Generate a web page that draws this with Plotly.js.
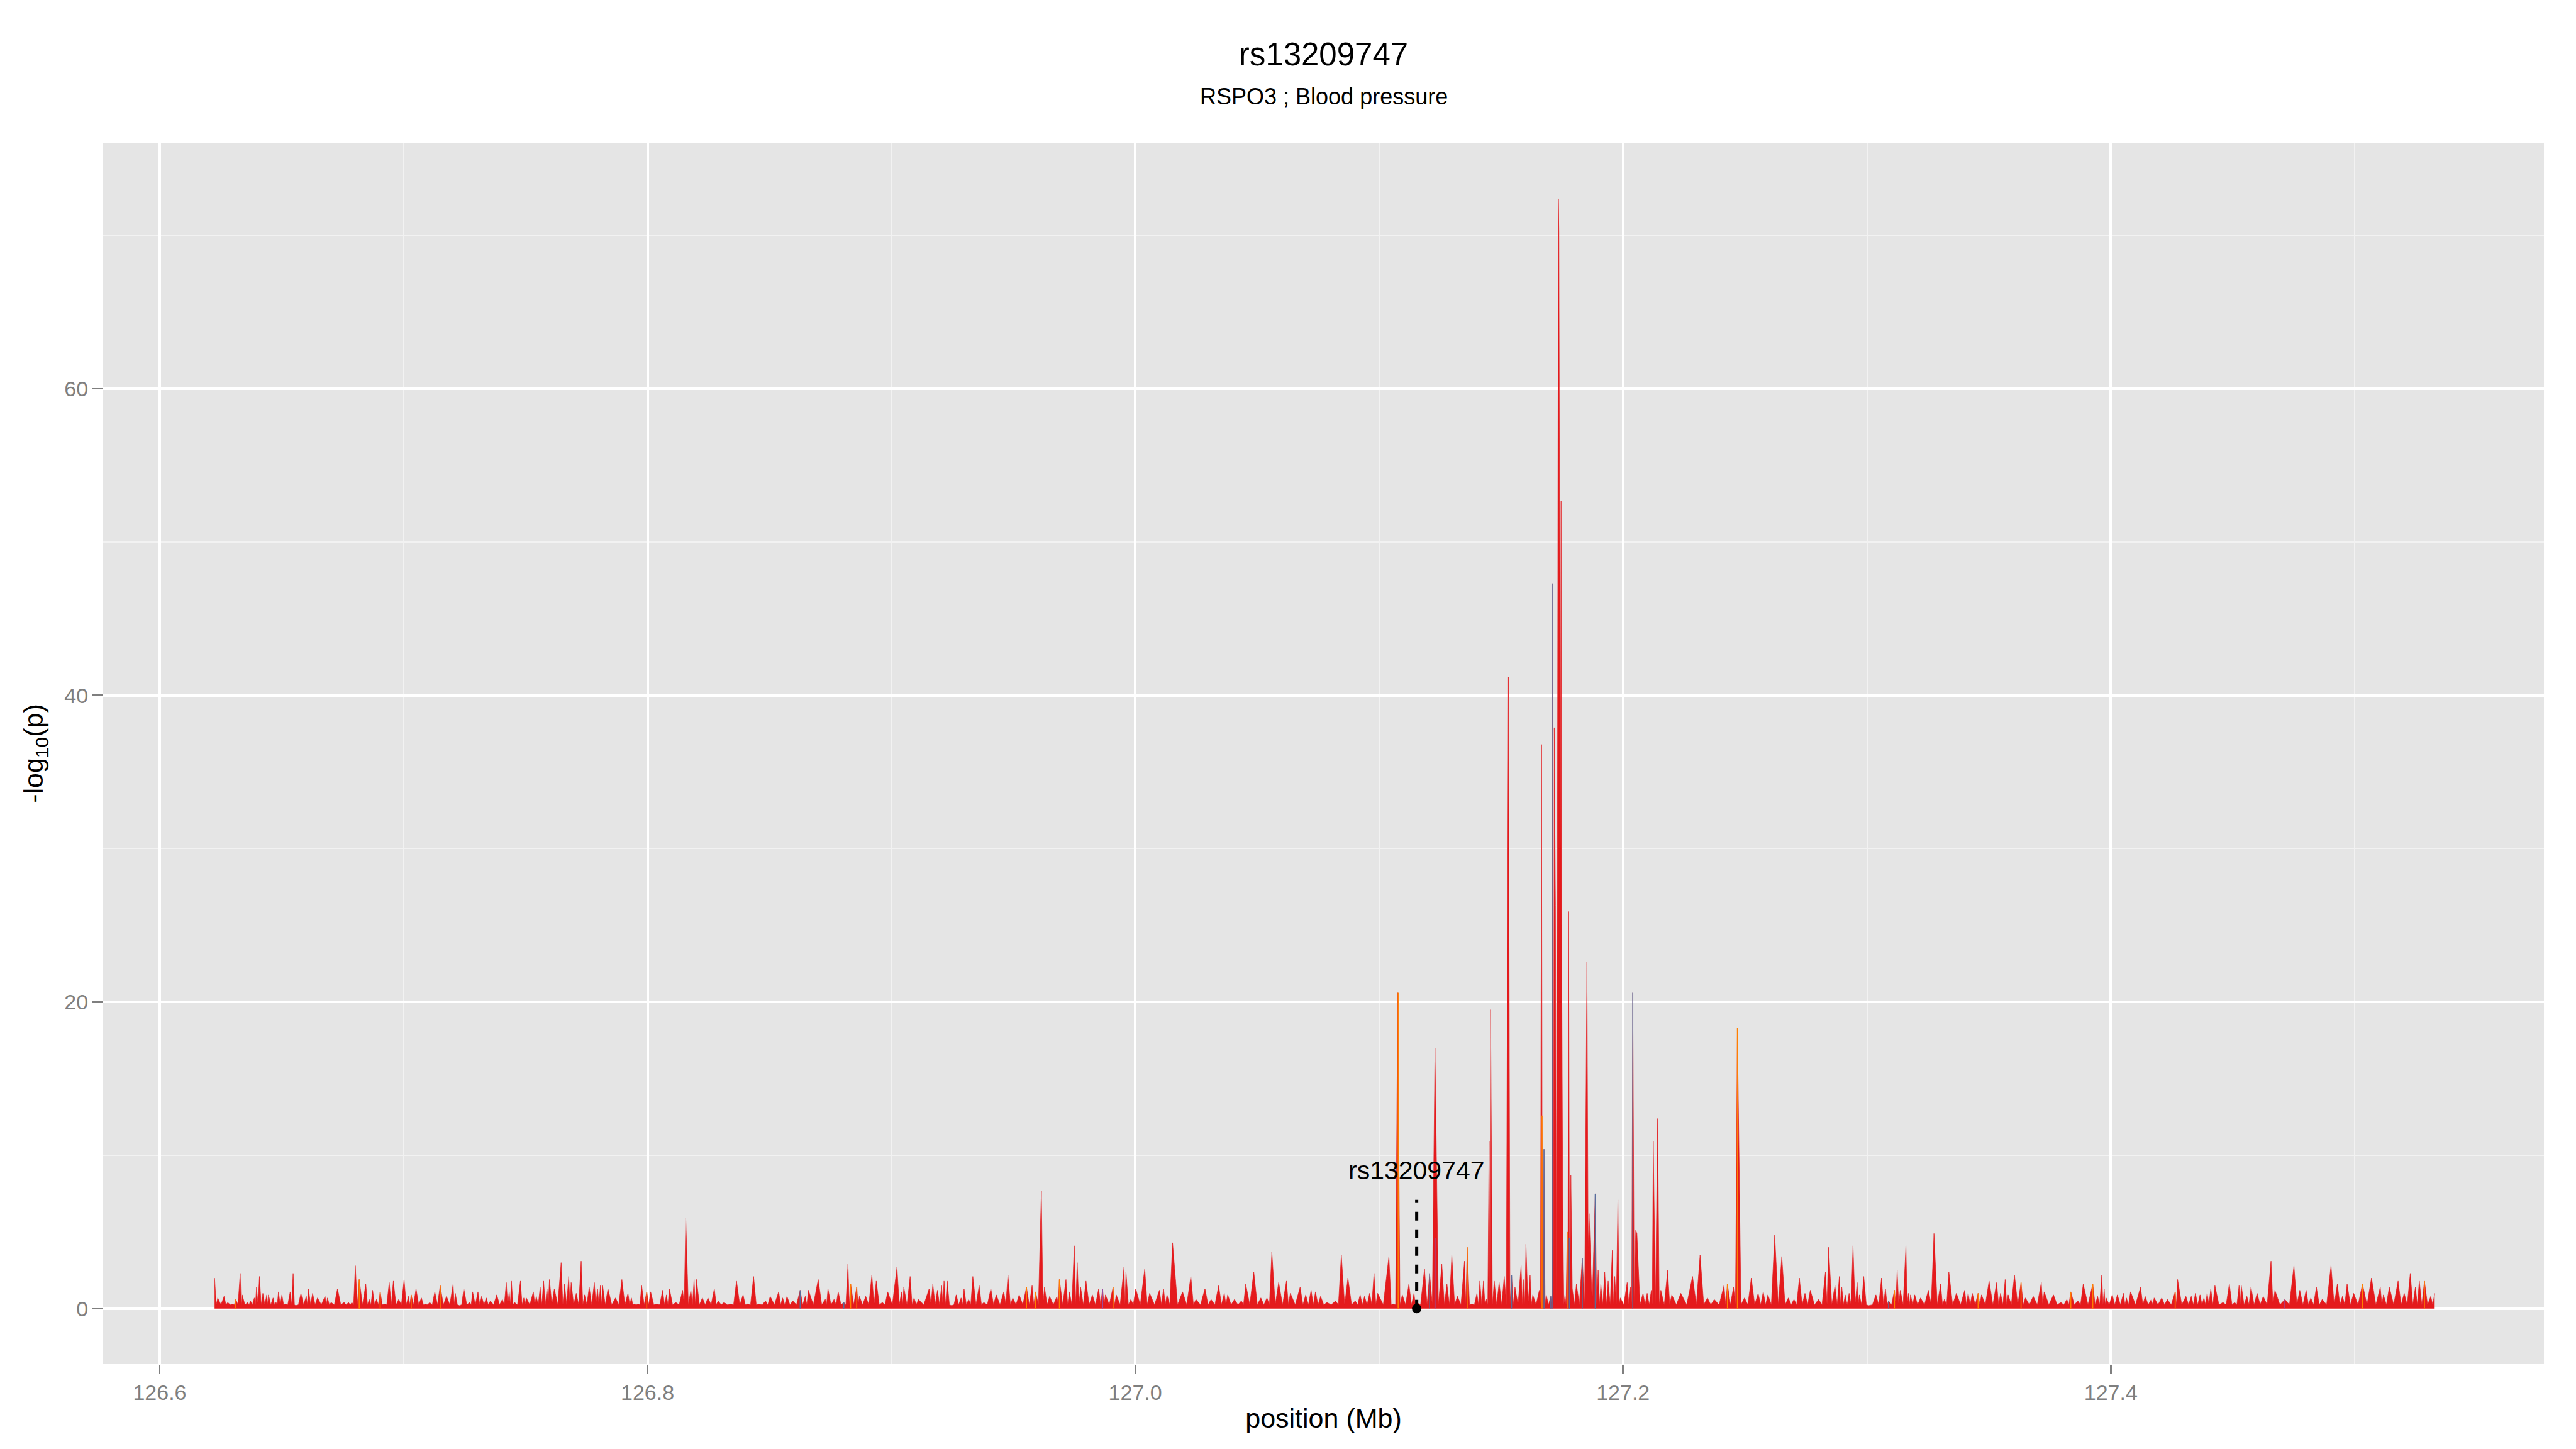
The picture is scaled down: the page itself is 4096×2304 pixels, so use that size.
<!DOCTYPE html>
<html>
<head>
<meta charset="utf-8">
<script src="https://cdn.plot.ly/plotly-3.0.1.min.js"></script>
<style>
html,body{margin:0;padding:0;background:#fff;}
#chart{width:4096px;height:2304px;}
</style>
</head>
<body>
<div id="chart"></div>
<script>
// ---- data (position in Mb, -log10 p) ----
const titleText = "rs13209747";
const subtitleText = "RSPO3 ; Blood pressure";
const xTitle = "position (Mb)";
const yTitle = "-log<sub>10</sub>(p)";

const snpLabel = "rs13209747";
const snpPos = 127.1154;
const snpLineTop = 7.1;
const snpLabelY = 9.0;

const pos = [
126.6225,126.6238,126.6264,126.6279,126.6300,126.6312,126.6330,126.6338,126.6361,126.6372,
126.6388,126.6397,126.6409,126.6423,126.6439,126.6446,126.6465,126.6477,126.6487,126.6501,
126.6515,126.6535,126.6547,126.6558,126.6579,126.6601,126.6610,126.6627,126.6647,126.6678,
126.6688,126.6703,126.6729,126.6756,126.6774,126.6788,126.6802,126.6818,126.6845,126.6859,
126.6873,126.6889,126.6904,126.6921,126.6941,126.6958,126.6980,126.7002,126.7020,126.7031,
126.7051,126.7073,126.7090,126.7107,126.7128,126.7150,126.7176,126.7203,126.7212,126.7229,
126.7247,126.7271,126.7283,126.7305,126.7320,126.7339,126.7356,126.7382,126.7405,126.7421,
126.7433,126.7442,126.7455,126.7479,126.7493,126.7503,126.7532,126.7544,126.7560,126.7574,
126.7588,126.7598,126.7618,126.7646,126.7660,126.7677,126.7687,126.7708,126.7728,126.7742,
126.7761,126.7782,126.7795,126.7807,126.7816,126.7838,126.7869,126.7895,126.7920,126.7934,
126.7946,126.7962,126.7976,126.7997,126.8013,126.8039,126.8062,126.8078,126.8090,126.8116,
126.8144,126.8157,126.8178,126.8191,126.8201,126.8225,126.8248,126.8274,126.8290,126.8314,
126.8341,126.8365,126.8392,126.8410,126.8435,126.8457,126.8484,126.8503,126.8538,126.8554,
126.8572,126.8596,
126.8626,126.8647,126.8660,126.8700,126.8729,126.8740,126.8765,126.8782,126.8805,126.8822,
126.8833,126.8858,126.8869,126.8895,126.8920,126.8938,126.8963,126.8985,126.9023,126.9042,
126.9051,126.9077,126.9093,126.9111,126.9155,126.9170,126.9189,126.9206,126.9216,126.9229,
126.9247,126.9266,126.9286,126.9298,126.9317,126.9334,126.9360,126.9379,126.9408,126.9430,
126.9461,126.9478,126.9498,126.9524,126.9554,126.9577,126.9591,126.9615,126.9628,126.9649,
126.9679,126.9689,126.9716,126.9730,126.9750,126.9762,126.9776,126.9798,126.9824,126.9850,
126.9866,126.9878,126.9909,126.9922,126.9954,126.9962,126.9982,127.0002,127.0039,127.0059,
127.0099,127.0116,127.0130,127.0153,127.0194,127.0228,127.0249,127.0286,127.0311,127.0342,
127.0365,127.0379,127.0407,127.0435,127.0453,127.0486,127.0515,127.0540,127.0560,127.0588,
127.0620,127.0636,127.0676,127.0699,127.0721,127.0739,127.0760,127.0786,127.0821,127.0845,
127.0872,127.0902,127.0922,127.0940,127.0961,127.0979,127.0994,
127.1040,127.1059,127.1076,127.1095,127.1122,127.1143,127.1154,127.1186,127.1207,127.1229,
127.1257,127.1278,127.1298,127.1321,127.1350,127.1361,127.1380,127.1401,127.1413,127.1428,
127.1440,127.1451,127.1457,127.1472,127.1492,127.1513,127.1530,127.1543,127.1557,127.1582,
127.1593,127.1602,127.1619,127.1630,127.1657,127.1666,127.1668,127.1676,127.1685,127.1704,
127.1712,127.1718,127.1723,127.1731,127.1735,127.1737,127.1740,127.1743,127.1746,127.1748,
127.1753,127.1762,127.1771,127.1777,127.1780,127.1786,127.1792,127.1809,127.1833,127.1852,
127.1857,127.1861,127.1886,127.1898,127.1909,127.1925,127.1939,127.1956,127.1966,127.1979,
127.1989,127.2017,127.2031,127.2040,127.2052,127.2057,127.2082,127.2099,127.2116,127.2124,
127.2142,127.2155,127.2183,127.2200,127.2237,127.2285,127.2316,127.2346,127.2374,127.2414,
127.2428,127.2453,127.2469,127.2498,127.2526,127.2554,127.2575,127.2594,127.2622,127.2651,
127.2678,127.2701,127.2723,127.2746,127.2768,127.2802,127.2830,
127.2843,127.2869,127.2887,127.2897,127.2911,127.2927,127.2943,127.2960,127.2969,127.2987,
127.3008,127.3037,127.3060,127.3076,127.3089,127.3113,127.3124,127.3137,127.3160,127.3170,
127.3179,127.3196,127.3220,127.3252,127.3275,127.3302,127.3318,127.3336,127.3367,127.3401,
127.3415,127.3432,127.3456,127.3470,127.3501,127.3532,127.3548,127.3567,127.3579,127.3605,
127.3632,127.3650,127.3682,127.3715,127.3727,127.3765,127.3795,127.3820,127.3836,127.3865,
127.3887,127.3926,127.3946,127.3963,127.3973,127.3981,127.4006,127.4027,127.4052,127.4064,
127.4081,127.4122,127.4141,127.4166,127.4178,127.4209,127.4232,127.4264,127.4274,127.4308,
127.4330,127.4347,127.4366,127.4382,127.4395,127.4410,127.4427,127.4460,127.4486,127.4508,
127.4526,127.4535,127.4558,127.4575,127.4600,127.4625,127.4657,127.4673,127.4714,127.4751,
127.4775,127.4801,127.4820,127.4843,127.4867,127.4903,127.4929,127.4950,127.4969,127.4996,
127.5032,127.5069,127.5105,127.5118,127.5142,127.5178,127.5203,127.5228,127.5249,127.5265,
127.5286,127.5312,127.5328
];

const logp = [
2.0,0.7,0.8,0.4,0.3,0.6,2.3,0.9,0.4,0.5,
0.7,1.4,2.1,1.0,0.9,0.9,0.7,0.4,1.1,0.9,
0.3,1.1,2.3,0.2,1.0,0.8,1.3,1.0,0.7,0.8,
0.7,0.4,1.3,0.4,0.4,0.4,2.8,1.9,1.6,0.6,
1.2,0.6,1.1,0.3,1.7,1.8,0.6,1.9,0.8,0.9,
1.3,0.7,0.3,0.4,1.1,1.5,0.8,1.6,1.0,0.2,
1.3,0.4,1.1,1.1,0.8,0.7,0.5,0.9,0.6,1.7,
1.1,1.8,0.4,1.8,0.7,0.7,1.1,0.8,1.4,1.8,
1.3,1.9,1.3,3.0,1.6,2.1,1.7,1.0,3.1,0.9,
1.4,1.7,1.3,1.5,1.5,1.3,0.7,1.9,1.0,0.7,
0.3,0.3,1.5,1.1,1.1,0.3,1.2,0.9,1.3,0.4,
1.2,5.9,1.2,1.9,1.9,0.7,0.7,1.3,0.5,0.4,
0.3,1.8,0.9,0.3,2.1,0.3,0.5,0.8,1.1,0.7,
0.8,0.5,
1.2,0.8,1.2,1.9,0.6,1.3,0.6,1.1,0.4,2.9,
1.6,1.4,0.8,0.8,2.2,1.8,0.4,1.1,2.7,1.1,
1.4,2.1,0.7,0.6,1.3,1.6,1.2,1.5,1.8,1.8,
0.2,0.9,0.7,1.3,0.6,2.1,1.5,0.4,1.3,0.9,
1.1,2.2,0.7,0.9,1.4,1.5,1.1,7.7,1.4,0.8,
0.8,1.9,1.9,1.1,4.1,3.0,1.4,1.8,0.9,1.3,
1.3,0.9,1.4,0.9,2.7,2.4,0.6,1.3,2.6,1.0,
1.2,1.3,0.9,4.3,1.1,2.1,0.6,1.3,0.6,1.5,
1.0,0.9,0.6,0.5,1.6,2.4,0.7,0.7,3.7,1.7,
1.8,1.0,1.4,0.9,1.2,1.1,0.8,0.4,0.5,3.5,
2.0,0.5,0.9,0.8,1.0,2.3,1.0,
3.4,0.3,20.6,0.9,1.6,1.0,0.4,2.6,2.3,17.0,
2.9,1.6,3.5,0.8,3.1,4.0,0.3,1.0,1.8,1.8,
0.6,10.9,19.5,1.8,1.7,2.1,41.2,2.2,1.4,2.8,
1.9,4.2,2.2,0.9,1.2,36.8,12.6,10.4,0.9,0.8,
47.3,37.9,26.3,30.0,72.4,70.2,54.2,30.0,52.7,25.0,
6.6,0.9,5.0,25.9,4.6,8.7,1.3,1.6,3.3,22.6,
4.0,6.2,7.5,2.5,1.6,2.4,1.8,3.8,2.1,7.1,
0.7,1.7,1.4,20.6,5.1,4.9,1.0,1.0,1.2,10.9,
12.4,1.2,2.5,0.9,1.0,2.1,3.5,0.7,0.6,1.5,
1.6,1.4,18.3,0.7,2.0,1.0,1.1,0.9,4.8,3.4,
0.7,0.6,2.0,1.0,1.2,0.6,2.4,
4.0,1.5,2.1,1.4,0.9,1.0,4.1,1.7,0.9,2.1,
0.2,0.9,2.0,1.3,0.5,1.2,2.5,1.2,4.1,1.0,
0.9,0.9,0.7,1.2,4.9,1.6,0.6,2.4,1.0,1.2,
1.0,1.0,1.0,0.9,1.8,1.7,1.0,1.9,0.9,2.2,
1.7,0.7,0.8,1.7,1.1,0.9,0.4,0.6,1.1,0.5,
1.6,1.6,0.8,2.2,1.3,0.7,0.9,0.9,1.0,0.7,
1.1,1.4,0.8,0.6,0.7,0.7,0.6,1.1,1.9,0.8,
0.8,1.0,0.9,0.7,1.0,1.3,1.5,0.4,1.6,0.4,
1.5,1.5,0.8,1.4,1.0,0.8,3.1,1.2,0.6,2.8,
1.2,1.2,0.7,1.4,0.6,2.8,1.6,0.8,1.6,1.0,
1.6,2.0,1.4,0.9,1.4,1.8,1.0,2.3,1.4,1.8,
1.8,0.8,1.0
];

// SNPs in the other colour groups
const orangePos  = [126.6312,126.6818,126.6904,126.7031,126.7150,126.7997,126.8833,126.8858,126.9554,126.9591,126.9689,126.9909,127.1078,127.1361,127.1668,127.1771,127.2428,127.2469,127.3113,127.3456,127.3632,127.3836,127.3926,127.4264,127.5032,127.5286];
const orangeLogp = [0.6,1.9,1.1,0.9,1.5,1.1,1.6,1.4,1.4,1.1,1.9,1.4,20.6,4.0,12.6,5.0,1.6,18.3,1.2,1.0,1.7,1.1,1.6,1.1,1.6,1.8];
const bluePos    = [126.8626,126.8805,127.1207,127.1543,127.1676,127.1704,127.1712,127.1780,127.1833,127.1886,127.2040,127.3089];
const blueLogp   = [1.2,0.4,2.3,2.2,10.4,0.8,47.3,4.6,3.3,7.5,20.6,0.5];
const purplePos  = [126.9866,127.1229,127.4714];
const purpleLogp = [1.3,4.6,0.6];

const floorLevel = 0.25;   // level the signal returns to between SNP spikes
const minGap = 0.0006;     // SNPs closer than this form one continuous block

// ---- build traces ----
const rx = [], ry = [];
for (let i = 0; i < pos.length; i++) {
  if (i > 0 && pos[i] - pos[i-1] > minGap) {
    rx.push((pos[i] + pos[i-1]) / 2); ry.push(floorLevel);
  }
  rx.push(pos[i]); ry.push(logp[i]);
}

function spikes(p, v) {
  const x = [], y = [];
  for (let i = 0; i < p.length; i++) { x.push(p[i], p[i], null); y.push(0, v[i], null); }
  return {x, y};
}
const o = spikes(orangePos, orangeLogp);
const b = spikes(bluePos, blueLogp);
const pu = spikes(purplePos, purpleLogp);

const RED = '#E41A1C', ORANGE = '#FF7F00', BLUE = '#377EB8', PURPLE = '#984EA3';

const traces = [
  {x: rx, y: ry, type: 'scatter', mode: 'lines', fill: 'tozeroy',
   line: {color: RED, width: 0.7}, fillcolor: RED, hoverinfo: 'skip', showlegend: false},
  {x: o.x, y: o.y, type: 'scatter', mode: 'lines', line: {color: ORANGE, width: 1.6}, hoverinfo: 'skip', showlegend: false},
  {x: b.x, y: b.y, type: 'scatter', mode: 'lines', line: {color: BLUE, width: 1.6}, opacity: 0.8, hoverinfo: 'skip', showlegend: false},
  {x: pu.x, y: pu.y, type: 'scatter', mode: 'lines', line: {color: PURPLE, width: 1.6}, hoverinfo: 'skip', showlegend: false},
  {x: [snpPos], y: [0], type: 'scatter', mode: 'markers', marker: {color: '#000000', size: 15}, hoverinfo: 'skip', showlegend: false}
];

const FONT = 'Liberation Sans, Arial, Helvetica, sans-serif';
const GREY = '#7F7F7F';

const layout = {
  width: 4096, height: 2304,
  margin: {l: 164, r: 51, t: 227, b: 135},
  paper_bgcolor: '#FFFFFF',
  plot_bgcolor: '#E5E5E5',
  font: {family: FONT, color: '#000000'},
  showlegend: false,
  title: {text: titleText, font: {family: FONT, size: 51, color: '#000000'},
          xref: 'paper', x: 0.5, xanchor: 'center', yref: 'container', y: 1 - 86/2304, yanchor: 'middle'},
  xaxis: {
    range: [126.5768, 127.5776],
    tickmode: 'linear', tick0: 126.6, dtick: 0.2, tickformat: '.1f',
    ticks: 'outside', ticklen: 15, tickwidth: 2.5, tickcolor: GREY,
    tickfont: {family: FONT, size: 34, color: GREY},
    showgrid: true, gridcolor: '#FFFFFF', gridwidth: 4,
    minor: {tick0: 126.6, dtick: 0.1, showgrid: true, gridcolor: '#F2F2F2', gridwidth: 2, ticks: ''},
    zeroline: false, showline: false, automargin: false,
    title: {text: xTitle, font: {family: FONT, size: 43, color: '#000000'}, standoff: 8}
  },
  yaxis: {
    range: [-3.62, 76.05],
    tickmode: 'array', tickvals: [0, 20, 40, 60], ticktext: ['0', '20', '40', '60'],
    ticks: 'outside', ticklen: 16, tickwidth: 2.5, tickcolor: GREY,
    tickfont: {family: FONT, size: 34, color: GREY},
    showgrid: true, gridcolor: '#FFFFFF', gridwidth: 4,
    minor: {tickmode: 'array', tickvals: [10, 30, 50, 70], showgrid: true, gridcolor: '#F2F2F2', gridwidth: 2, ticks: ''},
    zeroline: false, showline: false, automargin: false,
    title: {text: yTitle, font: {family: FONT, size: 43, color: '#000000'}, standoff: 20}
  },
  annotations: [
    {text: subtitleText, xref: 'paper', yref: 'paper', x: 0.5, y: (2169 - 154) / (2169 - 227),
     xanchor: 'center', yanchor: 'middle', showarrow: false,
     font: {family: FONT, size: 36, color: '#000000'}},
    {text: snpLabel, xref: 'x', yref: 'y', x: snpPos, y: snpLabelY,
     xanchor: 'center', yanchor: 'middle', showarrow: false,
     font: {family: FONT, size: 41, color: '#000000'}}
  ],
  shapes: [
    {type: 'line', xref: 'x', yref: 'y', x0: snpPos, x1: snpPos, y0: 0, y1: snpLineTop,
     line: {color: '#000000', width: 5, dash: '14px,14px'}, layer: 'above'}
  ]
};

Plotly.newPlot('chart', traces, layout, {staticPlot: true, displayModeBar: false});
</script>
</body>
</html>
